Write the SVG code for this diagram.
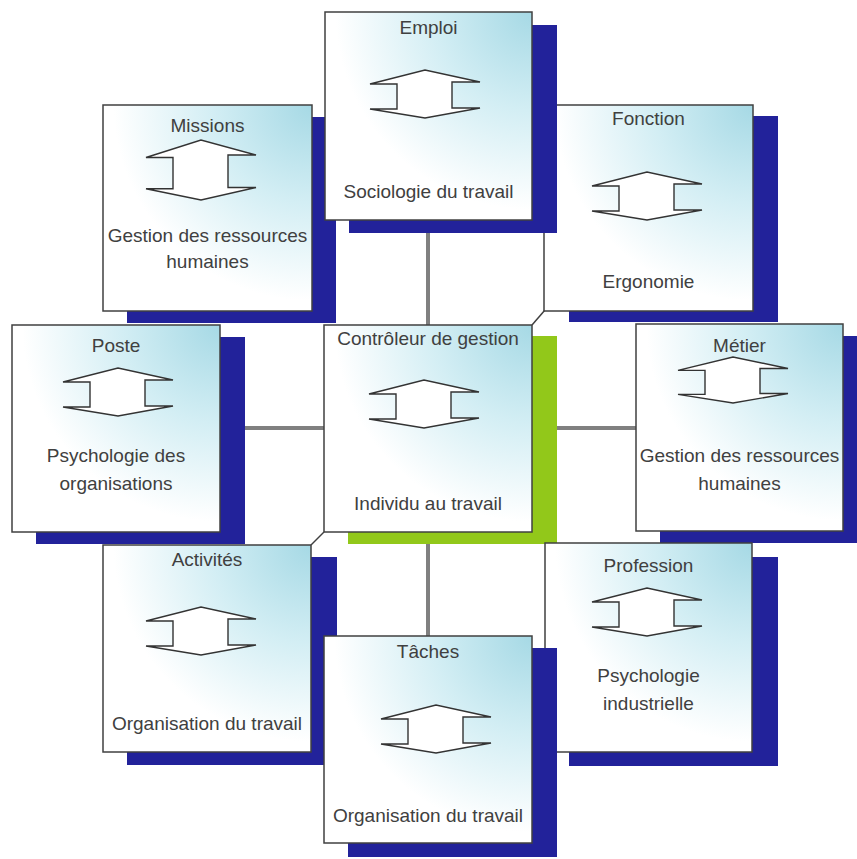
<svg xmlns="http://www.w3.org/2000/svg" width="857" height="859" viewBox="0 0 857 859">
<style>
.sh{fill:#22229a}
.gs{fill:#92c81a}
.bx{fill:url(#g);stroke:#404040;stroke-width:1.5}
.t{font-family:"Liberation Sans",Arial,sans-serif;font-size:19px;fill:#404040;text-anchor:middle}
.ar{fill:#fff;stroke:#333;stroke-width:1.4;stroke-linejoin:miter;vector-effect:non-scaling-stroke}
.cn{stroke:#808080;stroke-width:4;fill:none}
.dg{stroke:#404040;stroke-width:1.5;fill:none}
</style>
<defs>
<radialGradient id="g" cx="1" cy="0" r="0.95">
<stop offset="0" stop-color="#a6d9e5"/>
<stop offset="0.5" stop-color="#d3eef4"/>
<stop offset="1" stop-color="#ffffff"/>
</radialGradient>
<path id="arw" class="ar" d="M-55,-10 L0,-24 L55,-12 L27,-12 L27,14 L55,14 L0,24 L-55,15 L-28,15 L-28,-10 Z"/>
</defs>
<rect width="857" height="859" fill="#fff"/>
<g id="connectors">
<line class="cn" x1="428" y1="220" x2="428" y2="325"/>
<line class="cn" x1="428" y1="532" x2="428" y2="636"/>
<line class="cn" x1="220" y1="428" x2="324" y2="428"/>
<line class="cn" x1="532" y1="428" x2="636" y2="428"/>
<line class="dg" x1="545" y1="310" x2="532" y2="325"/>
<line class="dg" x1="311" y1="545" x2="324" y2="532"/>
</g>
<g id="fonction">
<rect class="sh" x="569" y="116" width="209" height="206"/>
<rect class="bx" x="544" y="105" width="209" height="206"/>
<text class="t" x="648.5" y="125">Fonction</text>
<use href="#arw" transform="translate(647,196)"/>
<text class="t" x="648.5" y="288">Ergonomie</text>
</g>
<g id="missions">
<rect class="sh" x="127" y="117" width="209" height="206"/>
<rect class="bx" x="103" y="105" width="209" height="206"/>
<text class="t" x="207.5" y="132">Missions</text>
<use href="#arw" transform="translate(201,170) scale(1,1.25)"/>
<text class="t" x="207.5" y="242">Gestion des ressources</text>
<text class="t" x="207.5" y="268">humaines</text>
</g>
<g id="emploi">
<rect class="sh" x="349" y="25" width="208" height="208"/>
<rect class="bx" x="325" y="12" width="207" height="208"/>
<text class="t" x="428.5" y="34">Emploi</text>
<use href="#arw" transform="translate(425,94)"/>
<text class="t" x="428.5" y="198">Sociologie du travail</text>
</g>
<g id="poste">
<rect class="sh" x="36" y="337" width="209" height="207"/>
<rect class="bx" x="12" y="325" width="208" height="207"/>
<text class="t" x="116" y="352">Poste</text>
<use href="#arw" transform="translate(118,392)"/>
<text class="t" x="116" y="462">Psychologie des</text>
<text class="t" x="116" y="490">organisations</text>
</g>
<g id="metier">
<rect class="sh" x="660" y="336" width="207" height="207"/>
<rect class="bx" x="636" y="324" width="207" height="207"/>
<text class="t" x="739.5" y="352">Métier</text>
<use href="#arw" transform="translate(733,380) scale(1,0.96)"/>
<text class="t" x="739.5" y="462">Gestion des ressources</text>
<text class="t" x="739.5" y="490">humaines</text>
</g>
<g id="controleur">
<rect class="gs" x="348" y="336" width="209" height="208"/>
<rect class="bx" x="324" y="325" width="208" height="207"/>
<text class="t" x="428" y="345">Contrôleur de gestion</text>
<use href="#arw" transform="translate(424,404)"/>
<text class="t" x="428" y="510">Individu au travail</text>
</g>
<g id="activites">
<rect class="sh" x="127" y="557" width="210" height="208"/>
<rect class="bx" x="103" y="545" width="208" height="207"/>
<text class="t" x="207" y="566">Activités</text>
<use href="#arw" transform="translate(201,631)"/>
<text class="t" x="207" y="730">Organisation du travail</text>
</g>
<g id="profession">
<rect class="sh" x="569" y="557" width="209" height="209"/>
<rect class="bx" x="545" y="543" width="207" height="209"/>
<text class="t" x="648.5" y="572">Profession</text>
<use href="#arw" transform="translate(647,612)"/>
<text class="t" x="648.5" y="682">Psychologie</text>
<text class="t" x="648.5" y="710">industrielle</text>
</g>
<g id="taches">
<rect class="sh" x="348" y="648" width="209" height="209"/>
<rect class="bx" x="324" y="636" width="208" height="207"/>
<text class="t" x="428" y="658">Tâches</text>
<use href="#arw" transform="translate(436,729)"/>
<text class="t" x="428" y="822">Organisation du travail</text>
</g>
</svg>
